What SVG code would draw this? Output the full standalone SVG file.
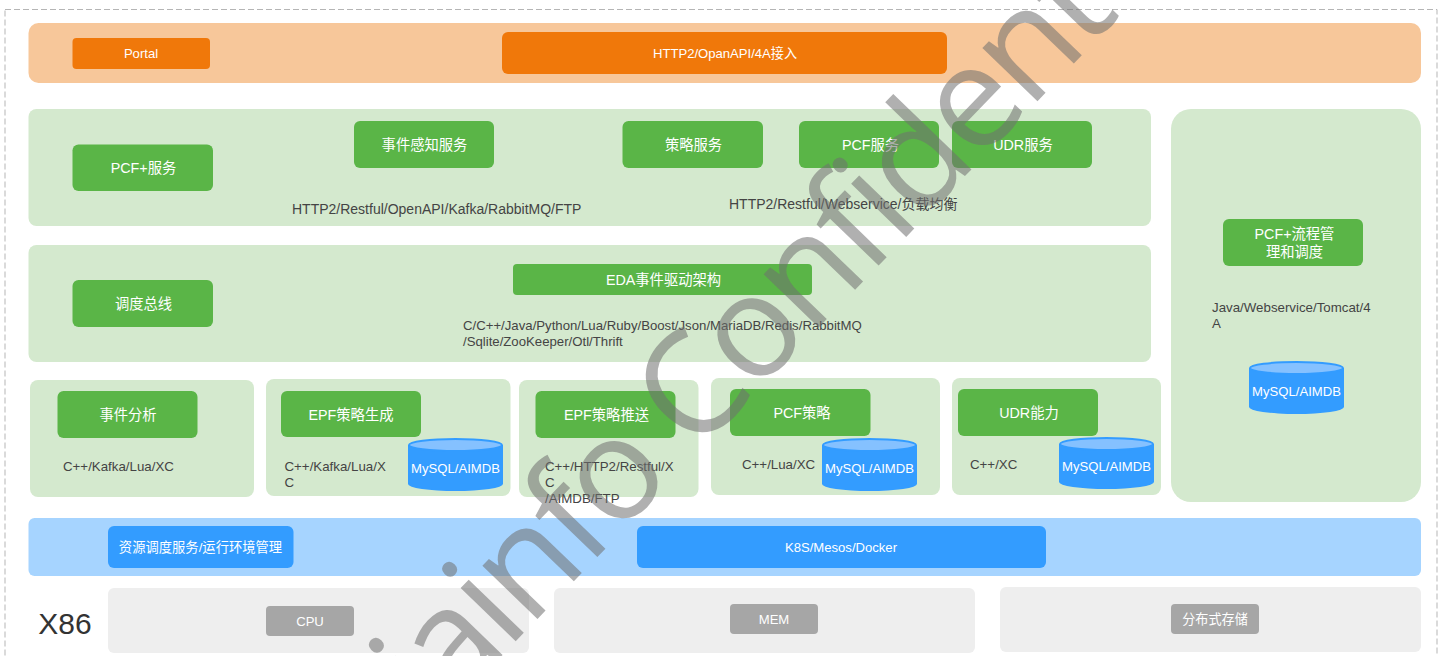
<svg xmlns="http://www.w3.org/2000/svg" width="1444" height="656" viewBox="0 0 1444 656">
<style>
text{font-family:"Liberation Sans","Noto Sans CJK SC",sans-serif;text-anchor:middle}
.w{fill:#fff;font-size:14.3px}
.s{font-size:13.1px}
.l{fill:#444;font-size:13.3px;text-anchor:start}
.m{font-size:14px}
.t{font-size:13.2px}
.p{fill:#f7c79a}.g{fill:#d4e9ce}.o{fill:#f0780a}.n{fill:#5ab547}.b{fill:#339cff}.gy{fill:#a6a6a6}.e{fill:#eee}
.cb{fill:#339cff}.ct{fill:#85c1ff;stroke:#339cff;stroke-width:2}
.wm{font-family:"Open Sans",sans-serif;font-size:143px;letter-spacing:-5px;fill:#707070;fill-opacity:.55;text-anchor:start}
</style>
<rect x="5" y="9.500" width="1432" height="700" fill="none" stroke="#b5b5b5" stroke-dasharray="6 3"/>
<g id="band-portal"><rect class="p" x="28.500" y="23" width="1392.500" height="60" rx="10"/></g>
<g id="band-service"><rect class="g" x="28.500" y="109" width="1122.500" height="117" rx="8"/></g>
<g id="band-bus"><rect class="g" x="28.500" y="245" width="1122.500" height="117" rx="8"/></g>
<g id="panel-event"><rect class="g" x="30" y="380" width="224" height="117" rx="8"/></g>
<g id="panel-gen"><rect class="g" x="266" y="379" width="244.500" height="117" rx="8"/></g>
<g id="panel-push"><rect class="g" x="519" y="380" width="179.500" height="117" rx="8"/></g>
<g id="panel-pcf"><rect class="g" x="711" y="378" width="229" height="117" rx="8"/></g>
<g id="panel-udr"><rect class="g" x="952" y="378" width="209" height="117" rx="8"/></g>
<g id="panel-flow"><rect class="g" x="1171" y="109" width="250" height="393" rx="20"/></g>
<g id="band-res"><rect fill="#a6d4ff" x="28.500" y="518" width="1392.500" height="58" rx="6"/></g>
<g id="band-cpu"><rect class="e" x="108" y="588" width="421" height="65" rx="6"/></g>
<g id="band-mem"><rect class="e" x="554" y="588" width="421" height="65" rx="6"/></g>
<g id="band-disk"><rect class="e" x="1000" y="587" width="421" height="65" rx="6"/></g>

<g id="portal"><rect class="o" x="72.500" y="38" width="137.500" height="31" rx="4"/><text class="w s" x="141" y="58">Portal</text></g>
<g id="http"><rect class="o" x="502" y="32" width="445" height="42" rx="6"/><text class="w s" x="725" y="58">HTTP2/OpanAPI/4A接入</text></g>
<g id="pcf-plus"><rect class="n" x="72.500" y="144.500" width="140.500" height="46.500" rx="6"/><text class="w" x="143.500" y="173">PCF+服务</text></g>
<g id="event-sense"><rect class="n" x="354" y="121" width="140" height="47" rx="6"/><text class="w" x="424.500" y="150">事件感知服务</text></g>
<g id="policy"><rect class="n" x="622.500" y="121" width="140.500" height="47" rx="6"/><text class="w" x="693.500" y="150">策略服务</text></g>
<g id="pcf"><rect class="n" x="799" y="121" width="140" height="47" rx="6"/><text class="w" x="870.500" y="150">PCF服务</text></g>
<g id="udr"><rect class="n" x="952" y="121" width="140" height="47" rx="6"/><text class="w" x="1023" y="150">UDR服务</text></g>
<text class="l m" x="292" y="214">HTTP2/Restful/OpenAPI/Kafka/RabbitMQ/FTP</text>
<text class="l m" x="729" y="209">HTTP2/Restful/Webservice/负载均衡</text>
<g id="bus"><rect class="n" x="72.500" y="280" width="140.500" height="47" rx="6"/><text class="w" x="143.500" y="309">调度总线</text></g>
<g id="eda"><rect class="n" x="513" y="264" width="299" height="31" rx="4"/><text class="w" x="663.500" y="285">EDA事件驱动架构</text></g>
<text class="l t" x="463" y="330">C/C++/Java/Python/Lua/Ruby/Boost/Json/MariaDB/Redis/RabbitMQ</text>
<text class="l t" x="463" y="346">/Sqlite/ZooKeeper/Otl/Thrift</text>
<g id="flow"><rect class="n" x="1223" y="219" width="140" height="47" rx="6"/><text class="w" x="1294.500" y="239">PCF+流程管</text><text class="w" x="1294.500" y="257">理和调度</text></g>
<text class="l" x="1212" y="312">Java/Webservice/Tomcat/4</text>
<text class="l" x="1212" y="328">A</text>
<g id="db-flow"><path class="cb" d="M1249 368v39a47.500 7 0 0 0 95 0v-39z"/><ellipse class="ct" cx="1296.500" cy="368" rx="46.500" ry="6"/><text class="w s" x="1296.500" y="396">MySQL/AIMDB</text></g>
<g id="analysis"><rect class="n" x="57.500" y="391" width="140" height="47" rx="6"/><text class="w" x="128" y="420">事件分析</text></g>
<text class="l" x="63" y="471">C++/Kafka/Lua/XC</text>
<g id="gen"><rect class="n" x="281" y="391" width="140" height="46" rx="6"/><text class="w" x="351" y="420">EPF策略生成</text></g>
<text class="l" x="284.500" y="471">C++/Kafka/Lua/X</text>
<text class="l" x="284.500" y="487">C</text>
<g id="db-gen"><path class="cb" d="M408 445v39a47.500 7 0 0 0 95 0v-39z"/><ellipse class="ct" cx="455.500" cy="445" rx="46.500" ry="6"/><text class="w s" x="455.500" y="473">MySQL/AIMDB</text></g>
<g id="push"><rect class="n" x="535.500" y="391" width="140" height="47" rx="6"/><text class="w" x="606.500" y="420">EPF策略推送</text></g>
<text class="l" x="545" y="471">C++/HTTP2/Restful/X</text>
<text class="l" x="545" y="487">C</text>
<text class="l" x="545" y="503">/AIMDB/FTP</text>
<g id="pcfp"><rect class="n" x="730" y="389" width="140.500" height="47" rx="6"/><text class="w" x="802" y="418">PCF策略</text></g>
<text class="l" x="742" y="469">C++/Lua/XC</text>
<g id="db-pcf"><path class="cb" d="M822 445v39a47.500 7 0 0 0 95 0v-39z"/><ellipse class="ct" cx="869.500" cy="445" rx="46.500" ry="6"/><text class="w s" x="869.500" y="473">MySQL/AIMDB</text></g>
<g id="udrp"><rect class="n" x="958" y="389" width="140" height="47" rx="6"/><text class="w" x="1029" y="418">UDR能力</text></g>
<text class="l" x="970" y="469">C++/XC</text>
<g id="db-udr"><path class="cb" d="M1059 444v38a47.500 7 0 0 0 95 0v-38z"/><ellipse class="ct" cx="1106.500" cy="444" rx="46.500" ry="6"/><text class="w s" x="1106.500" y="471">MySQL/AIMDB</text></g>
<g id="res"><rect class="b" x="108" y="526" width="185.500" height="42" rx="6"/><text class="w" style="font-size:13.3px" x="200.500" y="552">资源调度服务/运行环境管理</text></g>
<g id="k8s"><rect class="b" x="637" y="526" width="409" height="42" rx="6"/><text class="w s" x="841" y="552">K8S/Mesos/Docker</text></g>
<text x="65" y="634" font-size="30" fill="#333">X86</text>
<g id="cpu"><rect class="gy" x="266" y="606" width="88" height="30" rx="4"/><text class="w s" x="310" y="626">CPU</text></g>
<g id="mem"><rect class="gy" x="730" y="604" width="88" height="30" rx="4"/><text class="w s" x="774" y="624">MEM</text></g>
<g id="disk"><rect class="gy" x="1171" y="604" width="88" height="30" rx="4"/><text class="w s" x="1215" y="624">分布式存储</text></g>
<text class="wm" transform="translate(434 726) rotate(-46)">iainfo Confident</text>
</svg>
